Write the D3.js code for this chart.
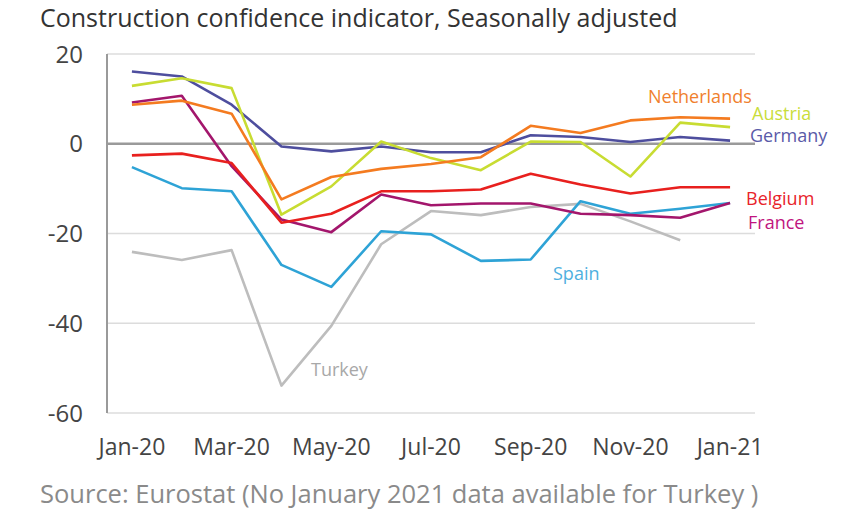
<!DOCTYPE html>
<html>
<head>
<meta charset="utf-8">
<script src="https://cdn.jsdelivr.net/npm/d3@7"></script>
<style>
  body { margin: 0; background: #fff; }
  text { font-family: "Open Sans", sans-serif; }
</style>
</head>
<body>
<svg width="852" height="526"></svg>
<script>
var months = ["Jan-20","Feb-20","Mar-20","Apr-20","May-20","Jun-20","Jul-20","Aug-20","Sep-20","Oct-20","Nov-20","Dec-20","Jan-21"];
var tickLabels = ["Jan-20","Mar-20","May-20","Jul-20","Sep-20","Nov-20","Jan-21"];
var yTicks = [20, 0, -20, -40, -60];

var germany     = [16.1, 15.0, 8.7, -0.6, -1.7, -0.6, -1.9, -1.9, 1.9, 1.5, 0.4, 1.5, 0.7];
var austria     = [12.9, 14.6, 12.4, -15.8, -9.5, 0.5, -3.2, -5.9, 0.5, 0.4, -7.3, 4.7, 3.7];
var netherlands = [8.7, 9.6, 6.7, -12.4, -7.4, -5.6, -4.5, -3.0, 4.0, 2.4, 5.2, 5.9, 5.6];
var france      = [9.2, 10.7, -5.0, -16.9, -19.7, -11.3, -13.7, -13.3, -13.3, -15.6, -15.9, -16.5, -13.2];
var belgium     = [-2.6, -2.2, -4.3, -17.6, -15.6, -10.6, -10.6, -10.2, -6.7, -9.1, -11.1, -9.7, -9.7];
var spain       = [-5.2, -9.9, -10.6, -27.0, -31.9, -19.5, -20.2, -26.1, -25.8, -12.8, -15.6, -14.5, -13.2];
var turkey      = [-24.1, -25.9, -23.7, -53.9, -40.6, -22.4, -15.0, -15.9, -14.1, -13.4, -17.3, -21.5, null];

var series = [
  {name: "Turkey",      values: turkey,      color: "#bdbdbd", label: "#a8a8a8", lx: 311, ly: 376},
  {name: "Spain",       values: spain,       color: "#2ea3d6", label: "#4fb0e0", lx: 553, ly: 280},
  {name: "France",      values: france,      color: "#a3166c", label: "#c0157f", lx: 748, ly: 229},
  {name: "Belgium",     values: belgium,     color: "#e8201e", label: "#e8232a", lx: 746, ly: 205},
  {name: "Germany",     values: germany,     color: "#4e4e9e", label: "#5a5aa8", lx: 750, ly: 142},
  {name: "Austria",     values: austria,     color: "#c8dc32", label: "#c9dd3b", lx: 752, ly: 120},
  {name: "Netherlands", values: netherlands, color: "#f47b20", label: "#f07f2e", lx: 648, ly: 103}
];

var svg = d3.select("svg");

var x = d3.scalePoint()
  .domain(months)
  .range([107, 755])
  .padding(0.5);

var y = d3.scaleLinear()
  .domain([-60, 20])
  .range([413, 54]);

// title
svg.append("text")
  .attr("x", 40)
  .attr("y", 27)
  .attr("font-size", 25)
  .attr("fill", "#333")
  .text("Construction confidence indicator, Seasonally adjusted");

// gridlines
svg.selectAll("line.grid")
  .data(yTicks)
  .enter().append("line")
  .attr("class", "grid")
  .attr("x1", 107)
  .attr("x2", 755)
  .attr("y1", function(d){return y(d);})
  .attr("y2", function(d){return y(d);})
  .attr("stroke", function(d){return d === 0 ? "#9a9a9a" : "#dcdcdc";})
  .attr("stroke-width", function(d){return d === 0 ? 2.5 : 1.5;});

// left axis line
svg.append("line")
  .attr("x1", 107).attr("x2", 107)
  .attr("y1", 54).attr("y2", 413)
  .attr("stroke", "#9a9a9a")
  .attr("stroke-width", 2);

// y tick labels
svg.selectAll("text.ytick")
  .data(yTicks)
  .enter().append("text")
  .attr("class", "ytick")
  .attr("x", 83)
  .attr("y", function(d){return y(d) + 8.5;})
  .attr("text-anchor", "end")
  .attr("font-size", 24)
  .attr("fill", "#444")
  .text(function(d){return d;});

// x tick labels
svg.selectAll("text.xtick")
  .data(tickLabels)
  .enter().append("text")
  .attr("class", "xtick")
  .attr("x", function(d){return x(d);})
  .attr("y", 455)
  .attr("text-anchor", "middle")
  .attr("font-size", 23)
  .attr("fill", "#444")
  .text(function(d){return d;});

var line = d3.line()
  .defined(function(d){return d !== null;})
  .x(function(d, i){return x(months[i]);})
  .y(function(d){return y(d);});

svg.selectAll("path.series")
  .data(series)
  .enter().append("path")
  .attr("class", "series")
  .attr("fill", "none")
  .attr("stroke", function(d){return d.color;})
  .attr("stroke-width", 2.6)
  .attr("stroke-linejoin", "round")
  .attr("d", function(d){return line(d.values);});

svg.selectAll("text.label")
  .data(series)
  .enter().append("text")
  .attr("class", "label")
  .attr("x", function(d){return d.lx;})
  .attr("y", function(d){return d.ly;})
  .attr("font-size", 18)
  .attr("fill", function(d){return d.label;})
  .text(function(d){return d.name;});

// source
svg.append("text")
  .attr("x", 40)
  .attr("y", 503)
  .attr("font-size", 25.5)
  .attr("fill", "#8a8a8a")
  .text("Source: Eurostat (No January 2021 data available for Turkey )");
</script>
</body>
</html>
